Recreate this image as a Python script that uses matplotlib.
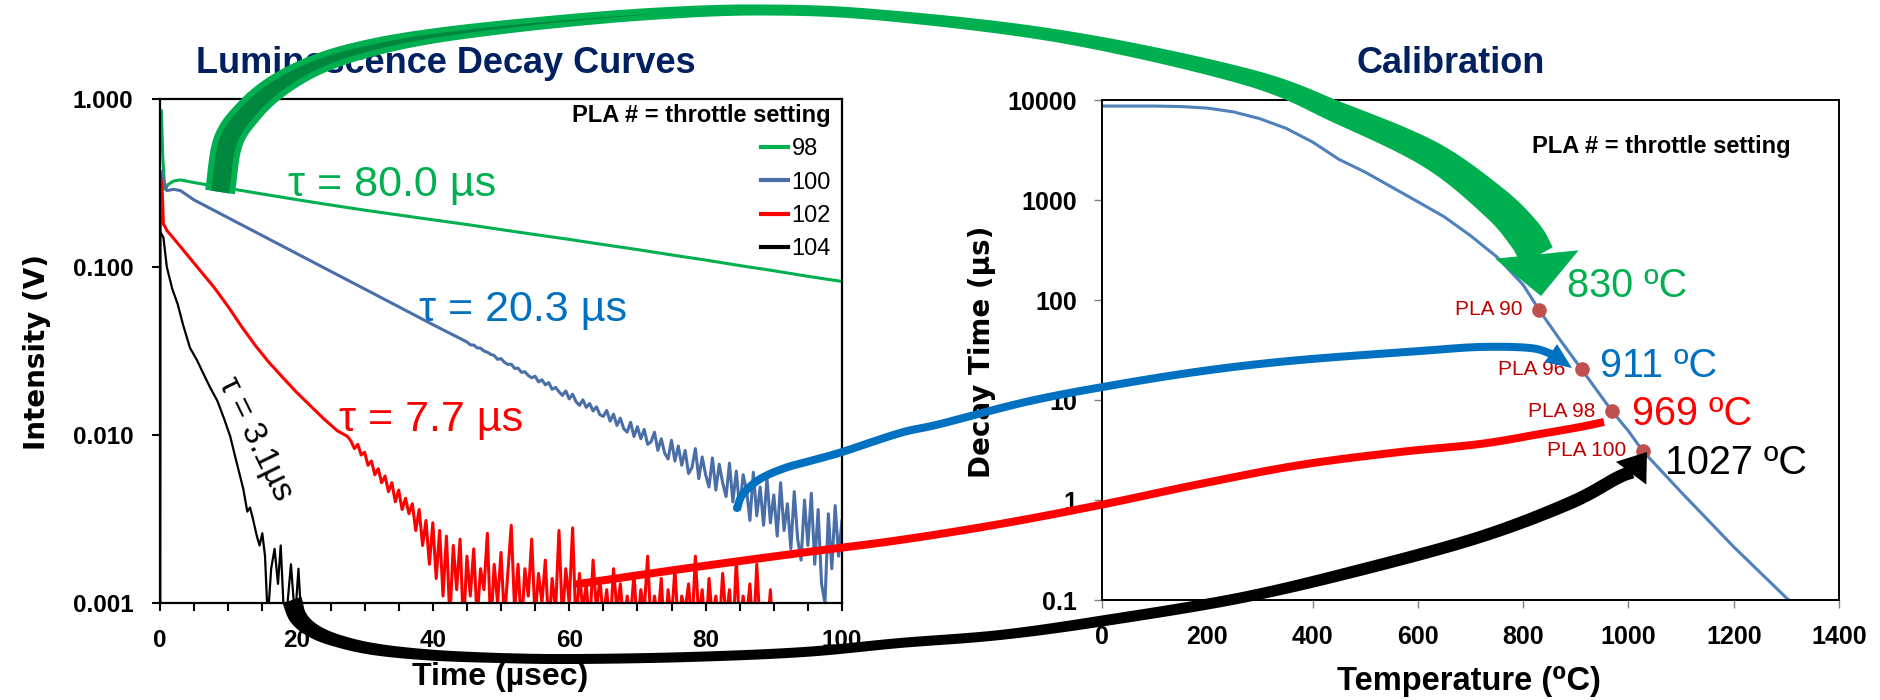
import matplotlib
matplotlib.use('Agg')
import numpy as np
import matplotlib.pyplot as plt
from matplotlib.patches import Polygon, Circle
from matplotlib.transforms import IdentityTransform
from matplotlib.ticker import NullLocator

# ========== data: luminescence decay curves (time in µs, intensity in V) ==========
t_98 = [0.2, 0.4, 0.7, 1.2, 2.0, 3.0, 5, 10, 15, 20, 25, 30, 35, 40, 45, 50,
        55, 60, 65, 70, 75, 80, 85, 90, 95, 100]
v_98 = [0.85, 0.45, 0.29, 0.31, 0.325, 0.33, 0.318, 0.294, 0.272, 0.252, 0.234, 0.218,
        0.204, 0.191, 0.179, 0.167, 0.156, 0.146, 0.136, 0.127, 0.118, 0.110, 0.102,
        0.095, 0.088, 0.082]

t_100 = [0.2, 0.5, 1.0, 2.0, 3.0, 5, 10, 15, 20, 25, 30, 35, 40] + list(np.arange(45, 100.01, 0.5))
v_100 = [0.37, 0.33, 0.285, 0.29, 0.285, 0.2506, 0.1963, 0.1538, 0.1205, 0.0944, 0.0740,
         0.0580, 0.0454,
         .0358, .0344, .0343, .0330, .0329, .0316, .0311, .0302, .0297, .0282,
         .0285, .0271, .0263, .0264, .0249, .0250, .0236, .0238, .0226, .0219,
         .0224, .0207, .0213, .0199, .0205, .0187, .0192, .0181, .0172, .0183,
         .0164, .0175, .0158, .0150, .0162, .0146, .0154, .0139, .0147, .0132,
         .0129, .0140, .0121, .0133, .0114, .0126, .0109, .0104, .0119, .0098,
         .0112, .0095, .0108, .0088, .0091, .0104, .0081, .0095, .0078, .0072,
         .0093, .0070, .0086, .0066, .0081, .0059, .0064, .0083, .0055, .0074,
         .0058, .0049, .0073, .0047, .0067, .0052, .0043, .0068, .0040, .0061,
         .0036, .0058, .0047, .0031, .0060, .0033, .0049, .0029, .0055, .0030,
         .0044, .0025, .0052, .0027, .0039, .0021, .0046, .0024, .0018, .0041,
         .0022, .0045, .0017, .0036, .0013, .0010, .0034, .0016, .0038, .0019, .0031]

t_102 = [0.0, 0.05, 0.3, 0.5, 0.8, 1, 2, 4, 6, 8, 10, 12, 14, 16, 18, 20, 22, 24, 26, 27.5] + \
        list(np.arange(28, 90.01, 0.5))
v_102 = [0.0005, 0.35, 0.30, 0.18, 0.172, 0.165, 0.148, 0.118, 0.094, 0.075, 0.058, 0.044,
         0.034, 0.027, 0.022, 0.018, 0.015, 0.0125, 0.0106, 0.0098,
         .0092, .0083, .0088, .0076, .0079, .0066, .0070, .0058, .0063, .0052,
         .0057, .0046, .0052, .0040, .0047, .0036,
         .0042, .0034, .0039, .0027, .0036, .0022, .0031, .0017, .0030, .0014,
         .0027, .0011, .0025, .0008, .0022, .0012, .0024, .0007, .0019, .0011,
         .0021, .0008, .0016, .0012, .0026, .0007, .0017, .0010, .0020, .0008,
         .0015, .0029, .0009, .0017, .0007, .0016, .0011, .0024, .0008, .0015,
         .0010, .0018, .0007, .0014, .0009, .0027, .0008, .0016, .0010, .0028,
         .0007, .0015, .0009, .0013, .0007, .0018, .0009, .0014, .0008, .0012,
         .0007, .0016, .0009, .0013, .0007, .0011, .0008, .0015, .0007, .0012,
         .0009, .0019, .0007, .0011, .0008, .0014, .0006, .0012, .0008, .0016,
         .0007, .0011, .0009, .0013, .0007, .0019, .0008, .0012, .0006, .0014,
         .0008, .0011, .0007, .0015, .0008, .0012, .0006, .0018, .0007, .0011,
         .0008, .0013, .0006, .0017, .0007, .0010, .0006, .0012, .0005]

t_104 = [0.1, 0.5, 1.0, 1.8, 2.6, 3.4, 4.4, 5.4, 6.4, 7.4, 8.4, 9.4, 10.3, 11.0, 11.6, 12.2,
         12.8, 13.2, 13.6, 14.2, 14.6, 15.0, 15.4, 15.8, 16.3, 16.8, 17.3, 17.7, 18.2, 18.6,
         19.2, 19.8, 20.3, 20.8, 21.5, 22.2]
v_104 = [0.16, 0.15, 0.10, 0.074, 0.060, 0.045, 0.033, 0.028, 0.023, 0.019, 0.016, 0.0125,
         0.0098, 0.0075, 0.0060, 0.0048, 0.0035, 0.0037, 0.0032, 0.0025, 0.0022, 0.0026,
         0.0019, 0.0008, 0.0016, 0.0021, 0.0013, 0.0022, 0.0008, 0.0009, 0.0017, 0.0008,
         0.0016, 0.0007, 0.0010, 0.0006]

decay_labels = ['98', '100', '102', '104']
decay_colors = ['#00B050', '#4A6FA8', '#FF0000', '#000000']
tau_texts = ['τ = 80.0 µs', 'τ = 20.3 µs', 'τ = 7.7 µs', 'τ = 3.1µs']
tau_colors = ['#00B050', '#0070C0', '#FF0000', '#000000']
tau_pos = [(18.8, 0.263), (38.0, 0.0474), (26.2, 0.0105), (13.9, 0.0094)]

x_ticks1 = [0, 20, 40, 60, 80, 100]
y_ticks1 = [0.001, 0.01, 0.1, 1]
y_labels1 = ['0.001', '0.010', '0.100', '1.000']

# ========== data: calibration curve ==========
calib_temp = [0, 100, 150, 200, 250, 300, 350, 400, 450, 500, 550, 600, 650, 700, 750,
              800, 830, 870, 911, 940, 969, 1000, 1027, 1100, 1200, 1300, 1330]
calib_tau = [8700, 8700, 8600, 8300, 7600, 6500, 5200, 3800, 2550, 1900, 1350, 960, 680,
             440, 270, 142, 80, 40, 20.3, 12.5, 7.7, 4.9, 3.1, 1.2, 0.34, 0.105, 0.078]
pla_temp = [830, 911, 969, 1027]
pla_tau = [80, 20.3, 7.7, 3.1]
pla_names = ['PLA 90', 'PLA 96', 'PLA 98', 'PLA 100']
temp_texts = ['830 ºC', '911 ºC', '969 ºC', '1027 ºC']
temp_colors = ['#00B050', '#0070C0', '#FF0000', '#000000']
temp_offsets = [(20, 17), (13, 2), (14, -2), (16, -9)]

x_ticks2 = [0, 200, 400, 600, 800, 1000, 1200, 1400]
y_ticks2 = [0.1, 1, 10, 100, 1000, 10000]
y_labels2 = ['0.1', '1', '10', '100', '1000', '10000']

# ========== figure ==========
W, H = 1880, 700
plt.rcParams['font.family'] = ['Liberation Sans', 'DejaVu Sans']
fig = plt.figure(figsize=(W / 100, H / 100), dpi=100)
NAVY = '#002060'


def fx(x):
    return x / W


def fy(y):
    return 1 - y / H


# ---------- left: decay curves ----------
ax1 = fig.add_axes([fx(160), fy(603), 682 / W, 504 / H])
for t, v, lab, col in zip([t_98, t_100, t_102, t_104], [v_98, v_100, v_102, v_104],
                          decay_labels, decay_colors):
    ax1.plot(t, v, color=col, lw=2.2 if col != '#000000' else 1.6, label=lab)
ax1.set_yscale('log')
ax1.set_xlim(0, 100)
ax1.set_ylim(0.001, 1)
ax1.set_xticks(x_ticks1)
ax1.set_xticks(np.arange(0, 101, 5), minor=True)
ax1.set_yticks(y_ticks1, labels=y_labels1)
ax1.yaxis.set_minor_locator(NullLocator())
ax1.tick_params(axis='both', which='both', direction='out', length=6, width=1.5,
                labelsize=17.5, pad=13)
for lab in ax1.get_xticklabels() + ax1.get_yticklabels():
    lab.set_fontweight('bold')
for sp in ax1.spines.values():
    sp.set_linewidth(1.6)

for (tx, ty), txt, col in zip(tau_pos[:3], tau_texts[:3], tau_colors[:3]):
    ax1.text(tx, ty, txt, color=col, fontsize=31, ha='left', va='baseline')
ax1.text(tau_pos[3][0], tau_pos[3][1], tau_texts[3], fontsize=24, rotation=-64,
         rotation_mode='anchor', ha='center', va='center', color=tau_colors[3])

leg = ax1.legend(loc='upper right', bbox_to_anchor=(0.984, 0.99), frameon=False,
                 title='PLA # = throttle setting', fontsize=17,
                 title_fontproperties={'weight': 'bold', 'size': 17}, alignment='right',
                 handlelength=1.15, handletextpad=0.15, labelspacing=0.48,
                 borderpad=0, borderaxespad=0)
for line in leg.get_lines():
    line.set_linewidth(3)

# ---------- right: calibration ----------
ax2 = fig.add_axes([fx(1102), fy(600), 737 / W, 500 / H])
ax2.plot(calib_temp, calib_tau, color='#4F81BD', lw=2.2)
ax2.plot(pla_temp, pla_tau, 'o', color='#C0504D', ms=9.5)
ax2.set_yscale('log')
ax2.set_xlim(0, 1400)
ax2.set_ylim(0.1, 10000)
ax2.set_xticks(x_ticks2)
ax2.set_yticks(y_ticks2, labels=y_labels2)
ax2.yaxis.set_minor_locator(NullLocator())
ax2.tick_params(axis='both', which='major', direction='out', length=6, width=1,
                color='#808080', labelsize=18, pad=12)
for lab in ax2.get_xticklabels() + ax2.get_yticklabels():
    lab.set_fontweight('bold')
for sp in ax2.spines.values():
    sp.set_linewidth(1.4)

for T, tau, name, txt, col, off in zip(pla_temp, pla_tau, pla_names, temp_texts,
                                       temp_colors, temp_offsets):
    ax2.annotate(name, (T, tau), xytext=(-12, 0), textcoords='offset points',
                 ha='right', va='center', fontsize=15, color='#C00000')
    ax2.annotate(txt, (T, tau), xytext=off, textcoords='offset points',
                 ha='left', va='center', fontsize=28.5, color=col)
ax2.text(0.583, 0.908, 'PLA # = throttle setting', transform=ax2.transAxes,
         ha='left', va='center', fontsize=17, fontweight='bold')

# ---------- titles and axis labels ----------
fig.text(fx(446), fy(73), 'Luminescence Decay Curves', fontsize=26, fontweight='bold',
         color=NAVY, ha='center', va='baseline')
fig.text(fx(1451), fy(73), 'Calibration', fontsize=26, fontweight='bold',
         color=NAVY, ha='center', va='baseline')
fig.text(fx(37), fy(352), 'Intensity (V)', family='DejaVu Sans', fontsize=20,
         fontweight='bold', rotation=90, ha='center', va='center')
fig.text(fx(982), fy(352), 'Decay Time (µs)', family='DejaVu Sans', fontsize=20,
         fontweight='bold', rotation=90, ha='center', va='center')
fig.text(fx(500), fy(685), 'Time (µsec)', fontsize=23, fontweight='bold',
         ha='center', va='baseline')
fig.text(fx(1469), fy(690), 'Temperature (⁰C)', fontsize=23.5, fontweight='bold',
         ha='center', va='baseline')


# ---------- curved connector arrows (pixel coords, y from top) ----------
def catmull(pts, n=20):
    p = np.asarray(pts, float)
    p = np.vstack([2 * p[0] - p[1], p, 2 * p[-1] - p[-2]])
    s = np.linspace(0, 1, n, endpoint=False)[:, None]
    segs = []
    for i in range(1, len(p) - 2):
        p0, p1, p2, p3 = p[i - 1], p[i], p[i + 1], p[i + 2]
        segs.append(0.5 * (2 * p1 + (p2 - p0) * s + (2 * p0 - 5 * p1 + 4 * p2 - p3) * s ** 2
                           + (3 * p1 - p0 - 3 * p2 + p3) * s ** 3))
    segs.append(p[-2][None])
    return np.vstack(segs)


def add_poly(verts, color, z):
    v = np.array(verts, float)
    v[:, 1] = H - v[:, 1]
    fig.add_artist(Polygon(v, closed=True, transform=IdentityTransform(),
                           facecolor=color, edgecolor='none', zorder=z))


def band(pts, widths, color, tip=None, head_w=0, round_start=False, z=10, n=20):
    c = catmull(pts, n)
    w = np.asarray(widths, float)
    ws = np.concatenate([np.linspace(w[i], w[i + 1], n, endpoint=False)
                         for i in range(len(w) - 1)] + [[w[-1]]])
    d = np.gradient(c, axis=0)
    d /= np.linalg.norm(d, axis=1)[:, None]
    nrm = np.column_stack([-d[:, 1], d[:, 0]])
    left = c + nrm * ws[:, None] / 2
    right = c - nrm * ws[:, None] / 2
    add_poly(np.vstack([left, right[::-1]]), color, z)
    if tip is not None:
        e = c[-1]
        u = np.array(tip, float) - e
        u /= np.linalg.norm(u)
        nn = np.array([-u[1], u[0]])
        b = e - u * 1.5
        add_poly([b + nn * head_w / 2, tip, b - nn * head_w / 2], color, z)
    if round_start:
        fig.add_artist(Circle((c[0][0], H - c[0][1]), ws[0] / 2, transform=IdentityTransform(),
                              facecolor=color, edgecolor='none', zorder=z))


green_pts = [(220, 192), (228, 142), (248, 112), (276, 87), (316, 65), (366, 49), (433, 36),
             (533, 24), (650, 14), (760, 10), (880, 15), (1064, 37), (1247, 77), (1339, 113),
             (1431, 155), (1495, 203), (1525, 235), (1537, 256)]
green_w = [30, 30, 28, 25, 21, 18, 15, 13, 12, 11, 11, 13, 17, 22, 28, 33, 36, 36]
band(green_pts, green_w, '#00B050', tip=(1541, 296), head_w=84)
band(green_pts[:9], [18, 18, 16, 13, 9, 6, 4, 2, 0.5], '#00873E', z=10.5)

red_pts = [(578, 584), (689, 568), (800, 553), (900, 540), (1000, 524), (1100, 505),
           (1200, 484), (1300, 465), (1400, 452), (1480, 444), (1540, 434), (1580, 427),
           (1604, 422)]
band(red_pts, [8] * len(red_pts), '#FF0000', round_start=True, z=11)

blue_pts = [(737, 508), (743, 494), (760, 479), (785, 468), (810, 461), (842, 452), (900, 433),
            (940, 424), (1030, 401), (1120, 384), (1210, 370), (1300, 360), (1420, 351),
            (1480, 347), (1530, 348), (1552, 354)]
band(blue_pts, [8] * len(blue_pts), '#0070C0', tip=(1572, 368), head_w=22,
     round_start=True, z=11)

black_pts = [(292, 600), (298, 617), (312, 630), (335, 640), (373, 649), (430, 655), (500, 658),
             (574, 659), (689, 657), (804, 652), (900, 643), (1000, 635), (1102, 621),
             (1240, 598), (1360, 570), (1480, 537), (1570, 503), (1617, 478), (1632, 472)]
black_w = [20, 18, 15, 13, 12, 11, 10, 10, 10, 10, 10, 10, 11, 11, 12, 12, 13, 13, 13]
band(black_pts, black_w, '#000000', tip=(1647, 452), head_w=38, z=12)

fig.savefig('out.png', dpi=100)
plt.close(fig)
